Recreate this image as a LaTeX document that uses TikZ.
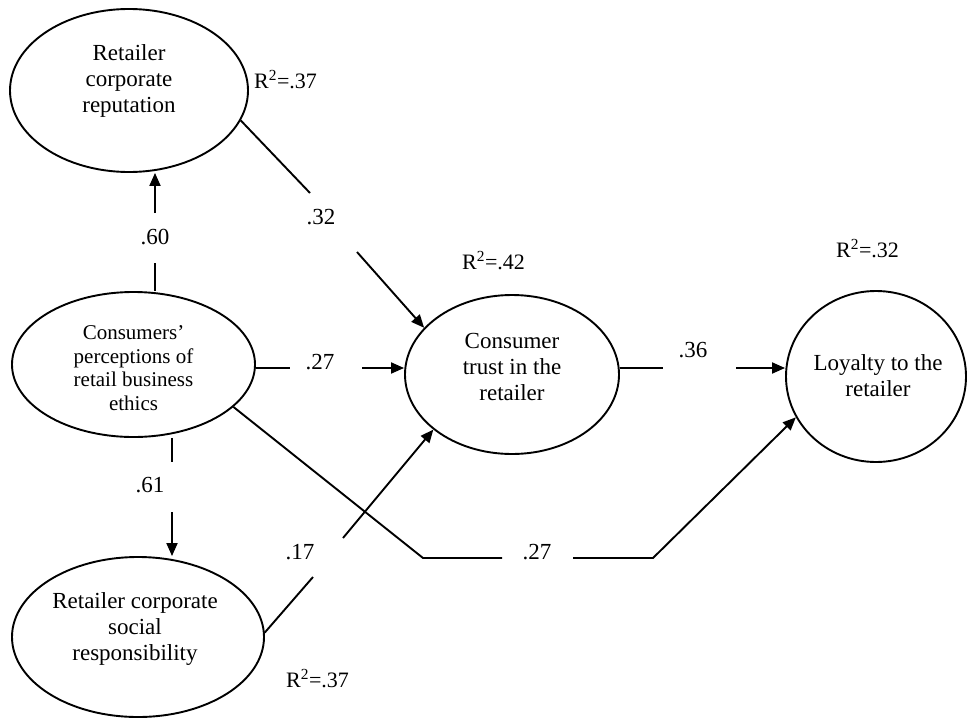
\documentclass[tikz,border=0pt]{standalone}
\usepackage{fontspec}
\setmainfont{Liberation Serif}
\usetikzlibrary{arrows.meta, shapes.geometric}

\begin{document}
\begin{tikzpicture}[
    x=1pt, y=-1pt,
    construct/.style = {ellipse, draw, line width=1.9pt, inner sep=0pt},
    ctext/.style     = {align=center, inner sep=0pt,
                        font=\fontsize{23}{26}\selectfont},
    coef/.style      = {font=\fontsize{23}{26}\selectfont},
    rsq/.style       = {anchor=base west, inner sep=0pt,
                        font=\fontsize{22}{26}\selectfont},
    link/.style      = {line width=1.9pt},
    arrow/.style     = {link, -{Triangle[length=13pt, width=11pt]}}
]
\useasboundingbox (0,0) rectangle (976,720);

% ========= constructs =========
\node[construct, minimum width=238pt, minimum height=163pt] (rep)   at (129,90.5)  {};
\node[construct, minimum width=243pt, minimum height=145pt] (eth)   at (133.5,364.5) {};
\node[construct, minimum width=252pt, minimum height=160pt] (csr)   at (138,637)   {};
\node[construct, minimum width=214pt, minimum height=159pt] (trust) at (512,374.5) {};
\node[construct, minimum width=180pt, minimum height=171pt] (loy)   at (876,376.5) {};

\node[ctext] (repText)   at ([yshift=9.5pt]rep.center)   {Retailer\\corporate\\reputation};
\node[ctext, font=\fontsize{21}{23.5}\selectfont]
             (ethText)   at ([yshift=-3.5pt]eth.center)  {Consumers’\\perceptions of\\retail business\\ethics};
\node[ctext] (csrText)   at ([xshift=-3pt,yshift=8pt]csr.center) {Retailer corporate\\social\\responsibility};
\node[ctext] (trustText) at ([yshift=8pt]trust.center)   {Consumer\\trust in the\\retailer};
\node[ctext] (loyText)   at ([xshift=2pt,yshift=1pt]loy.center) {Loyalty to the\\retailer};

% ========= explained variance =========
\node[rsq] (rsqRep)   at (254,88)  {R\textsuperscript{2}=.37};
\node[rsq] (rsqCsr)   at (286,687) {R\textsuperscript{2}=.37};
\node[rsq] (rsqTrust) at (462,269) {R\textsuperscript{2}=.42};
\node[rsq] (rsqLoy)   at (836,257) {R\textsuperscript{2}=.32};

% ========= paths (gaps left for the coefficients) =========
\coordinate (g60a) at (155,263);
\coordinate (g60b) at (155,213);
\draw[link]  (g60a |- eth.north) -- (g60a);
\draw[arrow] (g60b) -- (g60b |- rep.south);
\node[coef] (c60) at (155,237) {.60};

\coordinate (g61a) at (172,462);
\coordinate (g61b) at (172,512);
\draw[link]  (g61a |- eth.south) -- (g61a);
\draw[arrow] (g61b) -- (g61b |- csr.north);
\node[coef] (c61) at (150,485) {.61};

\coordinate (g27a) at (290,368);
\coordinate (g27b) at (362,368);
\draw[link]  (eth.east |- g27a) -- (g27a);
\draw[arrow] (g27b) -- (trust.west |- g27b);
\node[coef] (c27) at (320,362) {.27};

\coordinate (g36a) at (663,368);
\coordinate (g36b) at (736,368);
\draw[link]  (trust.east |- g36a) -- (g36a);
\draw[arrow] (g36b) -- (loy.west |- g36b);
\node[coef] (c36) at (693,350) {.36};

\coordinate (g32a) at (310,193);
\coordinate (g32b) at (357,252);
\draw[link]  (rep.345) -- (g32a);
\draw[arrow] (g32b) -- (trust.152);
\node[coef] (c32) at (321,217) {.32};

\coordinate (g17a) at (313,577);
\coordinate (g17b) at (343,538);
\draw[link]  (csr.2) -- (g17a);
\draw[arrow] (g17b) -- (trust.215);
\node[coef] (c17) at (300,552) {.17};

\coordinate (k27a) at (423,558);
\coordinate (g27c) at (502,558);
\coordinate (g27d) at (573,558);
\coordinate (k27b) at (653,558);
\draw[link]  (eth.337) -- (k27a) -- (g27c);
\draw[arrow] (g27d) -- (k27b) -- (loy.207);
\node[coef] (c27b) at (537,552) {.27};

\end{tikzpicture}
\end{document}
